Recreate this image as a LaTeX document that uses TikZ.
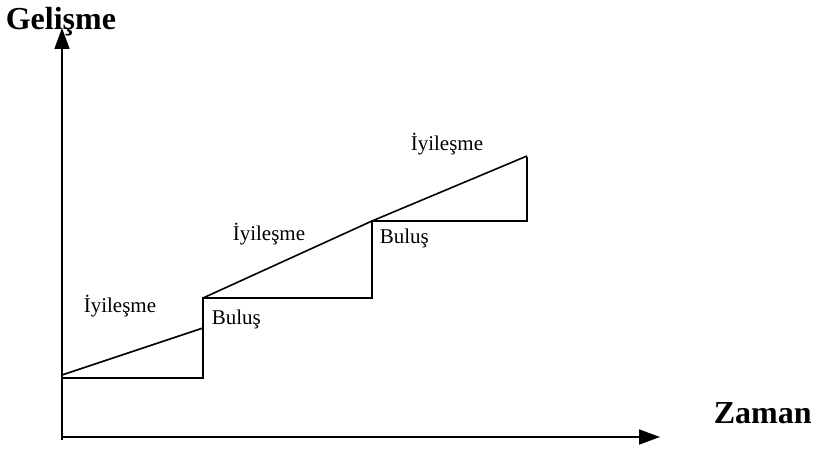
\documentclass[tikz,border=0pt]{standalone}
\usepackage{fontspec}
\setmainfont{Liberation Serif}
\usetikzlibrary{arrows.meta}
\begin{document}
\begin{tikzpicture}[x=1pt,y=1pt,line width=1.6pt,>={Triangle[length=21pt,width=15pt]},
	lbl/.style={font=\fontsize{21}{24}\selectfont,inner sep=0pt,anchor=base west},
	axlbl/.style={font=\bfseries\fontsize{32}{36}\selectfont,inner sep=0pt,anchor=base west}]
	\useasboundingbox (0,0) rectangle (814,448);
	\def\xa{62} \def\xb{203} \def\xc{372} \def\xd{527}
	\def\ya{70} \def\yb{150} \def\yc{227} \def\yd{291}
	% axes
	\draw[->] (\xa,8)--(\xa,420);
	\draw[->] (\xa,11)--(660,11);
	\node[axlbl] (gel) at (5,418) {Gelişme};
	\node[axlbl] (zam) at (713,25) {Zaman};
	% steps
	\draw (\xa,\ya)--(\xb,\ya)--(\xb,\yb)--(\xc,\yb)--(\xc,\yc)--(\xd,\yc)--(\xd,\yd);
	\draw (\xa,\ya+3)--(\xb,120);
	\draw (\xb,\yb)--(\xc,\yc);
	\draw (\xc,\yc)--(\xd,\yd+1);
	\node[lbl] (iy1) at (83,136) {İyileşme};
	\node[lbl] (bu1) at (211,124) {Buluş};
	\node[lbl] (iy2) at (232,208) {İyileşme};
	\node[lbl] (bu2) at (379,205) {Buluş};
	\node[lbl] (iy3) at (410,298) {İyileşme};
\end{tikzpicture}
\end{document}
